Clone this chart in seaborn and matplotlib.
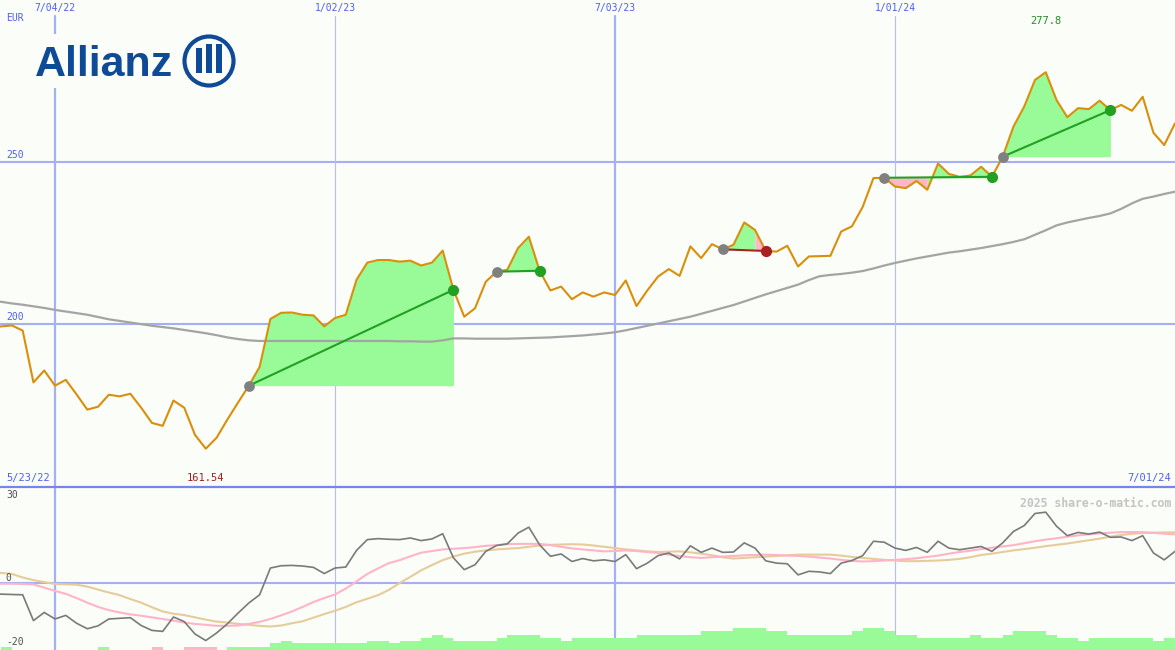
import numpy as np
import pandas as pd
import matplotlib
matplotlib.use("Agg")
import matplotlib.pyplot as plt
import seaborn as sns
from matplotlib import transforms
from matplotlib.patches import Circle, Rectangle
from matplotlib.lines import Line2D

# ---------------------------------------------------------------------------
# Data (weekly)
# ---------------------------------------------------------------------------
start_date = "2022-05-23"

price = [199.0, 199.3, 199.6, 198.0, 182.0, 185.7, 181.0, 182.8, 178.3, 173.6,
         174.5, 178.2, 177.7, 178.5, 174.2, 169.5, 168.6, 176.4, 174.2, 165.8,
         161.54, 164.9, 170.5, 175.8, 181.0, 186.8, 201.6, 203.5, 203.6, 202.9,
         202.7, 199.3, 201.9, 202.9, 213.7, 219.0, 219.8, 219.8, 219.3, 219.6,
         218.1, 219.0, 222.7, 210.6, 202.3, 204.9, 213.1, 216.2, 216.8, 223.5,
         227.0, 216.5, 210.4, 211.6, 207.7, 209.8, 208.5, 209.8, 209.0, 213.5,
         205.6, 210.4, 214.7, 217.0, 214.9, 224.0, 220.4, 224.7, 223.1, 224.5,
         231.4, 229.1, 222.6, 222.4, 224.2, 217.8, 220.9, 221.0, 221.1, 228.6,
         230.2, 236.2, 245.1, 245.2, 242.5, 242.0, 244.2, 241.5, 249.6, 246.4,
         245.5, 245.9, 248.6, 245.5, 251.7, 261.0, 267.2, 275.4, 277.8, 269.2,
         263.9, 266.7, 266.4, 269.0, 266.1, 267.7, 265.9, 270.2, 259.1, 255.3,
         262.0]

moving_avg = [207.2, 206.9, 206.4, 206.0, 205.5, 205.0, 204.4, 203.9, 203.4, 202.9,
              202.2, 201.5, 201.0, 200.5, 200.0, 199.5, 199.1, 198.7, 198.2, 197.7,
              197.2, 196.6, 195.9, 195.4, 195.0, 194.8, 194.8, 194.8, 194.8, 194.8,
              194.8, 194.8, 194.8, 194.8, 194.8, 194.8, 194.8, 194.8, 194.7, 194.7,
              194.6, 194.6, 195.0, 195.6, 195.6, 195.5, 195.5, 195.5, 195.5, 195.6,
              195.7, 195.8, 195.9, 196.1, 196.3, 196.5, 196.8, 197.1, 197.5, 198.1,
              198.8, 199.5, 200.2, 200.9, 201.6, 202.3, 203.2, 204.1, 205.0, 205.9,
              207.0, 208.1, 209.2, 210.2, 211.2, 212.2, 213.6, 214.8, 215.2, 215.5,
              215.9, 216.4, 217.2, 218.1, 218.9, 219.6, 220.3, 220.9, 221.5, 222.1,
              222.5, 223.0, 223.5, 224.1, 224.7, 225.4, 226.2, 227.6, 229.0, 230.5,
              231.4, 232.1, 232.8, 233.4, 234.2, 235.6, 237.3, 238.7, 239.4, 240.2,
              240.9]

# trades: index of entry week and exit week
trade_entry = [24, 47, 68, 83, 94]
trade_exit = [43, 51, 72, 93, 104]

momentum = [-3.3, -3.4, -3.5, -3.6, -11.5, -9.0, -11.0, -9.9, -12.3, -14.0,
            -13.1, -11.0, -10.8, -10.6, -13.0, -14.5, -14.8, -10.4, -11.8, -15.6,
            -17.6, -15.3, -12.5, -9.2, -6.1, -3.6, 4.6, 5.3, 5.4, 5.2,
            4.8, 2.9, 4.6, 4.9, 10.0, 13.3, 13.6, 13.4, 13.3, 13.8,
            13.0, 13.5, 15.1, 7.7, 4.1, 5.6, 9.7, 11.5, 12.0, 15.3,
            17.1, 11.7, 8.2, 8.9, 6.6, 7.5, 6.8, 7.1, 6.6, 8.7,
            4.4, 6.1, 8.4, 9.2, 7.4, 11.4, 9.4, 10.7, 9.4, 9.5,
            12.3, 10.7, 6.8, 6.1, 5.9, 2.5, 3.6, 3.4, 2.9, 6.1,
            6.9, 8.4, 12.8, 12.5, 10.7, 10.0, 10.9, 9.4, 12.8, 10.7,
            10.2, 10.7, 11.2, 9.7, 12.3, 15.8, 17.6, 21.3, 21.7, 17.4,
            14.5, 15.5, 15.0, 15.6, 14.0, 14.1, 13.0, 14.5, 9.2, 7.1,
            9.7]

signal_fast = [-0.2, -0.2, -0.2, -0.3, -0.4, -1.4, -2.4, -3.3, -4.6, -6.0,
               -7.3, -8.3, -9.0, -9.6, -10.0, -10.5, -11.0, -11.5, -12.1, -12.5,
               -12.8, -13.1, -13.1, -13.0, -12.5, -11.9, -11.0, -9.9, -8.7, -7.3,
               -5.8, -4.6, -3.5, -1.7, 0.5, 2.8, 4.5, 6.1, 7.0, 8.2,
               9.3, 9.8, 10.3, 10.5, 10.7, 11.0, 11.4, 11.6, 11.9, 12.0,
               12.0, 12.0, 11.6, 11.1, 10.6, 10.3, 10.0, 9.7, 9.8, 10.0,
               9.8, 9.5, 9.2, 8.7, 8.3, 7.9, 7.7, 7.9, 8.1, 8.3,
               8.5, 8.6, 8.7, 8.6, 8.4, 8.3, 8.1, 7.8, 7.5, 7.1,
               6.8, 6.6, 6.7, 6.9, 7.1, 7.3, 7.6, 8.0, 8.4, 9.0,
               9.5, 9.9, 10.4, 10.8, 11.2, 11.6, 12.2, 12.8, 13.3, 13.7,
               14.2, 14.6, 14.9, 15.2, 15.4, 15.6, 15.6, 15.6, 15.4, 15.1,
               14.9]

signal_slow = [3.5, 3.1, 2.8, 1.7, 0.9, 0.3, -0.3, -0.4, -0.5, -1.1,
               -2.0, -2.9, -3.7, -4.9, -6.0, -7.4, -8.7, -9.4, -9.8, -10.5,
               -11.2, -11.8, -12.1, -12.5, -12.8, -13.1, -13.3, -13.0, -12.3, -11.7,
               -10.6, -9.5, -8.5, -7.3, -5.9, -4.8, -3.7, -2.1, 0.0, 1.9,
               3.9, 5.5, 7.0, 8.1, 9.0, 9.6, 10.0, 10.3, 10.5, 10.7,
               11.1, 11.5, 11.7, 11.8, 11.9, 11.8, 11.5, 11.1, 10.7, 10.3,
               10.0, 9.7, 9.5, 9.6, 9.7, 9.4, 9.0, 8.5, 7.9, 7.5,
               7.7, 7.9, 8.1, 8.3, 8.5, 8.7, 8.7, 8.7, 8.7, 8.4,
               8.0, 7.7, 7.4, 7.1, 6.9, 6.7, 6.7, 6.8, 6.9, 7.1,
               7.4, 7.9, 8.6, 9.0, 9.5, 10.0, 10.4, 10.8, 11.3, 11.7,
               12.1, 12.6, 13.1, 13.6, 14.2, 14.7, 15.1, 15.3, 15.4, 15.5,
               15.5]

# strength bars at the bottom of the lower panel (negative = pink)
strength = [0, 0.8, 0, 0, 0, 0, 0, 0, 0, 0,
            0.8, 0, 0, 0, 0, -0.8, 0, 0, -0.8, -0.8,
            -0.8, 0, 0.8, 0.8, 0.8, 0.8, 2.1, 2.8, 2.1, 2.1,
            2.1, 2.1, 2.1, 2.1, 2.1, 2.8, 2.8, 2.1, 2.8, 2.8,
            3.8, 4.6, 3.8, 2.8, 2.8, 2.8, 2.8, 3.8, 4.6, 4.6,
            4.6, 3.8, 3.8, 2.8, 3.8, 3.8, 3.8, 3.8, 3.8, 3.8,
            4.6, 4.6, 4.6, 4.6, 4.6, 4.6, 5.8, 5.8, 5.8, 6.8,
            6.8, 6.8, 5.8, 5.8, 4.6, 4.6, 4.6, 4.6, 4.6, 4.6,
            5.8, 6.8, 6.8, 5.8, 4.6, 4.6, 3.8, 3.8, 3.8, 3.8,
            3.8, 4.6, 3.8, 3.8, 4.6, 5.8, 5.8, 5.8, 4.6, 3.8,
            3.8, 2.8, 3.8, 3.8, 3.8, 3.8, 3.8, 3.8, 2.8, 3.8,
            3.8]

grid_dates = ["2022-07-04", "2023-01-02", "2023-07-03", "2024-01-01"]
grid_labels = ["7/04/22", "1/02/23", "7/03/23", "1/01/24"]
price_levels = [250, 200]
lower_levels = [30, 0, -20]

# ---------------------------------------------------------------------------
# Style
# ---------------------------------------------------------------------------
BG = "#fbfdf9"
GRID = "#a3b1f2"
BLUE_TXT = "#4f5ff0"
PRICE_C = "#d98f0a"
MA_C = "#a4a4a4"
GREEN_FILL = "#98fb98"
PINK_FILL = "#ffb6c8"
WIN_C = "#22a022"
LOSS_C = "#a82020"
LOGO = "#0f4a96"

sns.set_style("white")
plt.rcParams["font.family"] = ["DejaVu Sans Mono", "DejaVu Sans"]

dates = pd.date_range(start_date, periods=len(price), freq="7D")
df = pd.DataFrame({"date": dates, "price": price, "ma": moving_avg,
                   "momentum": momentum, "fast": signal_fast,
                   "slow": signal_slow, "strength": strength})
px = np.array(price)
gdates = pd.to_datetime(grid_dates)

W, H = 1175, 650
fig = plt.figure(figsize=(W / 100, H / 100), dpi=100)
fig.patch.set_facecolor(BG)
split = 163.3 / H
ax = fig.add_axes([0, split, 1, 1 - split])
ax2 = fig.add_axes([0, 0, 1, split])
xlim = (pd.Timestamp("2022-05-29 06:00"), pd.Timestamp("2024-07-01"))
for a in (ax, ax2):
    a.set_facecolor(BG)
    a.set_xlim(xlim)
ax.set_ylim(149.8, 300.1)
ax2.set_ylim(-20.5, 29.5)

# ---------------------------------------------------------------------------
# Main panel
# ---------------------------------------------------------------------------
for lv in price_levels:
    ax.axhline(lv, color=GRID, lw=1.5, zorder=1)
for i, d in enumerate(gdates):
    thick = i % 2 == 0
    ax.axvline(d, ymax=1 - 16 / 487, color=GRID if thick else "#b4bef0",
               lw=1.6 if thick else 0.8, zorder=1)
    ax2.axvline(d, color=GRID if thick else "#b4bef0",
                lw=1.6 if thick else 0.8, zorder=1)

# shaded trade areas, one polygon per run of same-coloured weeks
for e, x_ in zip(trade_entry, trade_exit):
    lvl = px[e]
    up = px[e + 1:x_ + 1] > lvl
    k0 = e
    for j in range(1, len(up) + 1):
        if j == len(up) or up[j] != up[j - 1]:
            k1 = e + j
            col = GREEN_FILL if up[j - 1] else PINK_FILL
            ax.fill_between(dates[k0:k1 + 1], px[k0:k1 + 1], lvl, color=col,
                            lw=0, zorder=2)
            k0 = k1

sns.lineplot(data=df, x="date", y="ma", ax=ax, color=MA_C, lw=1.6, zorder=4)
sns.lineplot(data=df, x="date", y="price", ax=ax, color=PRICE_C, lw=1.5,
             zorder=5)

for e, x_ in zip(trade_entry, trade_exit):
    win = px[x_] > px[e]
    col = WIN_C if win else LOSS_C
    ax.plot([dates[e], dates[x_]], [px[e], px[x_]], color=col, lw=1.5,
            zorder=6)
    ax.scatter([dates[e]], [px[e]], s=60, color="#808080", lw=0, zorder=7)
    ax.scatter([dates[x_]], [px[x_]], s=65, color=col, lw=0, zorder=7)

blend = transforms.blended_transform_factory(ax.transAxes, ax.transData)
for lv in price_levels:
    ax.text(0.005, lv + 0.8, str(lv), transform=blend, color=BLUE_TXT,
            fontsize=7, va="bottom", ha="left")
ax.text(0.005, 0.962, "EUR", transform=ax.transAxes, color=BLUE_TXT,
        fontsize=7, va="center", ha="left")
top = transforms.blended_transform_factory(ax.transData, ax.transAxes)
for d, lab in zip(gdates, grid_labels):
    ax.text(d, 0.984, lab, transform=top, color=BLUE_TXT, fontsize=7,
            ha="center", va="center")

i_max, i_min = int(np.argmax(px)), int(np.argmin(px))
ax.text(dates[i_max], 0.957, f"{px[i_max]:.1f}", transform=top,
        color="#229022", fontsize=7.5, ha="center", va="center")
ax.text(dates[i_min], 0.017, f"{px[i_min]:.2f}", transform=top,
        color="#a02020", fontsize=7.5, ha="center", va="center")
ax.text(0.005, 0.017, dates[0].strftime("%-m/%d/%y"), transform=ax.transAxes,
        color=BLUE_TXT, fontsize=7.5, ha="left", va="center")
ax.text(0.997, 0.017, dates[-1].strftime("%-m/%d/%y"), transform=ax.transAxes,
        color=BLUE_TXT, fontsize=7.5, ha="right", va="center")

# ---------------------------------------------------------------------------
# Lower panel
# ---------------------------------------------------------------------------
ax2.axhline(0, color=GRID, lw=1.5, zorder=1)
st = np.array(strength)
mask = st != 0
ax2.bar(dates[mask], np.abs(st[mask]), width=7, align="edge", bottom=-20.5,
        color=[GREEN_FILL if v > 0 else PINK_FILL for v in st[mask]], lw=0,
        zorder=2)
sns.lineplot(data=df, x="date", y="slow", ax=ax2, color="#e6cc9a", lw=1.5,
             zorder=3)
sns.lineplot(data=df, x="date", y="fast", ax=ax2, color="#ffb4c8", lw=1.5,
             zorder=3)
sns.lineplot(data=df, x="date", y="momentum", ax=ax2, color="#7a7a7a",
             lw=1.2, zorder=4)

blend2 = transforms.blended_transform_factory(ax2.transAxes, ax2.transData)
ax2.text(0.005, 26.9, str(lower_levels[0]), transform=blend2,
         color="#505050", fontsize=7, va="center")
ax2.text(0.005, 1.6, str(lower_levels[1]), transform=blend2,
         color="#505050", fontsize=7, va="center")
ax2.text(0.005, -18.0, str(lower_levels[2]), transform=blend2,
         color="#505050", fontsize=7, va="center")
ax2.text(0.997, 0.9, "2025 share-o-matic.com", transform=ax2.transAxes,
         color="#c4c4c4", fontsize=8.3, weight="bold", ha="right",
         va="center")

for a in (ax, ax2):
    a.set_xlabel("")
    a.set_ylabel("")
    a.set_xticks([])
    a.set_yticks([])
    for s in a.spines.values():
        s.set_visible(False)

# separator between the panels
fig.add_artist(Line2D([0, 1], [split, split], transform=fig.transFigure,
                      color="#7585ea", lw=1.6, zorder=10))

# ---------------------------------------------------------------------------
# Logo
# ---------------------------------------------------------------------------
ident = transforms.IdentityTransform()
fig.add_artist(Rectangle((30, H - 88), 212, 54, transform=ident,
                         facecolor=BG, edgecolor="none", zorder=8))
fig.text(35 / W, 1 - 76 / H, "Allianz", fontsize=31, weight="bold",
         family="Liberation Sans", color=LOGO, va="baseline", zorder=9)
fig.add_artist(Circle((209, H - 61), 24.5, transform=ident, fill=False,
                      edgecolor=LOGO, lw=3, zorder=9))
for x0, y0, h in [(196, 48, 25), (206, 44, 29), (216, 44, 29)]:
    fig.add_artist(Rectangle((x0, H - y0 - h), 6, h, transform=ident,
                             facecolor=LOGO, edgecolor="none", zorder=9))

fig.savefig("out.png", dpi=100, facecolor=BG)
